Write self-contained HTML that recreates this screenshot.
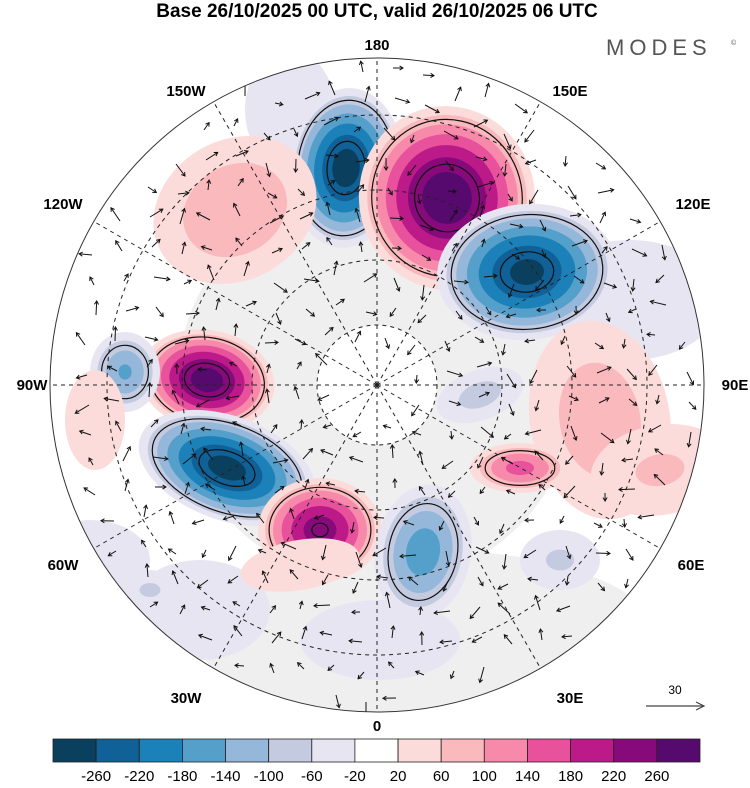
<!DOCTYPE html>
<html><head><meta charset="utf-8">
<style>
html,body{margin:0;padding:0;background:#fff;}
body{width:750px;height:783px;overflow:hidden;font-family:"Liberation Sans",sans-serif;}
</style></head>
<body>
<svg id="chart" width="750" height="783" viewBox="0 0 750 783" xmlns="http://www.w3.org/2000/svg">
<text x="377" y="17" text-anchor="middle" font-size="19" font-weight="bold" font-family="Liberation Sans, sans-serif">Base 26/10/2025 00 UTC, valid 26/10/2025 06 UTC</text>
<text x="606" y="55" font-size="22" letter-spacing="5" fill="#555" font-family="Liberation Sans, sans-serif">MODES</text>
<text x="731" y="45" font-size="7" fill="#555">©</text>
<defs><clipPath id="disk"><circle cx="377" cy="385" r="327"/></clipPath></defs>
<g id="map" clip-path="url(#disk)">
  <rect x="40" y="50" width="680" height="680" fill="#ffffff"/>
  <path fill="#efefef" fill-rule="evenodd" d="M377,185 a200,200 0 1,0 0.1,0 Z M377,325 a60,60 0 1,1 -0.1,0 Z"/>
  <ellipse cx="430" cy="640" rx="230" ry="90" fill="#efefef"/>
  <g id="blobs"></g>
  <g id="grid" fill="none" stroke="#222" stroke-width="1" stroke-dasharray="4,4"></g>
  <g id="arrows" stroke="#111" stroke-width="1" fill="none"></g>
</g>
<circle cx="377" cy="385" r="327" fill="none" stroke="#333" stroke-width="1"/>
<g id="lonlabels" font-size="15" font-weight="bold" text-anchor="middle"></g>
<g>
  <text x="675" y="694" font-size="12" text-anchor="middle">30</text>
  <line x1="646" y1="706" x2="703" y2="706" stroke="#444" stroke-width="1.2"/>
  <path d="M696,702 L704,706 L696,710" fill="none" stroke="#444" stroke-width="1.2"/>
</g>
<g id="colorbar"></g>
</svg>
<script>
const NS="http://www.w3.org/2000/svg";
const levels=[-260,-220,-180,-140,-100,-60,-20,20,60,100,140,180,220,260];
const colors=["#0b3f5e","#0f6197","#1c80b9","#559fcb","#95b8da","#c4cbe1","#e7e5f1","#ffffff","#fcdcda","#fab9bd","#f78aab","#e8519c","#bd1a89","#870a7b","#560a6e"];
// anomalies: centre x, centre y, amplitude, outer extent x, outer extent y, tilt deg
const blobX=[290,630,90,200,380,346,447,527,207,227,320,423,125,235,600,520,480,560,95,300,660,150];
const blobY=[110,300,560,610,640,168,198,272,380,468,530,552,372,210,420,468,395,560,420,565,470,590];
const blobA=[-30,-40,-40,-30,-30,-290,300,-280,290,-285,250,-170,-150,100,90,160,-80,-70,40,50,70,-70];
const blobRX=[45,90,60,70,80,57,88,90,68,92,62,48,35,85,100,50,45,40,30,60,45,30];
const blobRY=[60,60,40,50,40,80,92,68,50,52,52,68,40,70,70,25,25,30,50,25,70,20];
const blobT=[0,0,0,0,0,5,-10,-5,10,20,0,10,0,-30,80,0,-20,0,0,-10,80,0];
const lonLabels=["0","30E","60E","90E","120E","150E","180","150W","120W","90W","60W","30W"];
const latRadii=[60,125,195,270];
// label anchor positions (layout)
const lonLabelX=[377,570,691,735,693,570,377,186,63,32,63,186];
const lonLabelY=[731,703,570,390,209,96,50,96,209,390,570,703];

function mk(tag,attrs,parent){const e=document.createElementNS(NS,tag);for(const k in attrs)e.setAttribute(k,attrs[k]);parent.appendChild(e);return e;}
function colorFor(v){let i=0;while(i<levels.length&&v>levels[i])i++;return colors[i];}
function frac(A,L){return Math.pow((A-L)/(A-20),0.65);}

const bg=document.getElementById('blobs');
for(let b=0;b<blobX.length;b++){
  const A=blobA[b],sgn=Math.sign(A),absA=Math.abs(A);
  if(absA<=20)continue;
  const g=mk('g',{transform:`rotate(${blobT[b]} ${blobX[b]} ${blobY[b]})`},bg);
  
  
  for(let L=20;L<absA;L+=40){
    const f=frac(absA,L);
    const el=mk('ellipse',{cx:blobX[b],cy:blobY[b],rx:(blobRX[b]*f).toFixed(1),ry:(blobRY[b]*f).toFixed(1),fill:colorFor(sgn*(L+1))},g);
    
    
  }
  if(absA>=140){
    const f=frac(absA,80);
    const c=mk('ellipse',{cx:blobX[b],cy:blobY[b],rx:(blobRX[b]*f).toFixed(1),ry:(blobRY[b]*f).toFixed(1),fill:'none',stroke:'#111','stroke-width':1.2},g);
    
    
    if(absA>=240){
      const f2=frac(absA,240);
      const c2=mk('ellipse',{cx:blobX[b],cy:blobY[b],rx:(blobRX[b]*f2).toFixed(1),ry:(blobRY[b]*f2).toFixed(1),fill:'none',stroke:'#111','stroke-width':1.2},g);
      
      
    }
  }
}
// graticule
const gr=document.getElementById('grid');
latRadii.forEach(r=>{const c=mk('circle',{cx:377,cy:385,r:r},gr);

});
for(let i=0;i<12;i++){const a=i*30*Math.PI/180;
 const l=mk('line',{x1:377,y1:385,x2:377+330*Math.sin(a),y2:385+330*Math.cos(a)},gr);
 
 }
const ll=document.getElementById('lonlabels');
for(let i=0;i<12;i++){
 const t=mk('text',{x:lonLabelX[i],y:lonLabelY[i]},ll);
 t.textContent=lonLabels[i];
 
 }
// wind arrows (decorative)
const ar=document.getElementById('arrows');
for(let y=70;y<710;y+=30){for(let x=60;x<700;x+=30){
  const ox=x+((y*7)%13)-6, oy=y+((x*5)%11)-5;
  const d=Math.hypot(ox-377,oy-385); if(d>318||d<30)continue;
  let ang=Math.atan2(oy-385,ox-377)+Math.PI/2+Math.sin(ox*0.05)*1.2+Math.cos(oy*0.04);
  const len=8+((ox+oy)%9);
  const x2=ox+len*Math.cos(ang),y2=oy+len*Math.sin(ang);
  const g=mk('g',{},ar);
  
  
  mk('line',{x1:ox.toFixed(1),y1:oy.toFixed(1),x2:x2.toFixed(1),y2:y2.toFixed(1)},g);
  const h1=ang+2.6,h2=ang-2.6;
  mk('path',{d:`M${(x2+4*Math.cos(h1)).toFixed(1)},${(y2+4*Math.sin(h1)).toFixed(1)} L${x2.toFixed(1)},${y2.toFixed(1)} L${(x2+4*Math.cos(h2)).toFixed(1)},${(y2+4*Math.sin(h2)).toFixed(1)}`},g);
}}
// colorbar
const cb=document.getElementById('colorbar');
const x0=53,w=(700-53)/colors.length;
colors.forEach((c,i)=>{const r=mk('rect',{x:(x0+i*w).toFixed(1),y:739,width:w.toFixed(1),height:23,fill:c,stroke:'#222','stroke-width':0.8},cb);
 
 });
levels.forEach((v,i)=>{const t=mk('text',{x:(x0+(i+1)*w).toFixed(1),y:781,'font-size':15,'text-anchor':'middle'},cb);
 t.textContent=v;
 
 });
</script>
</body></html>
